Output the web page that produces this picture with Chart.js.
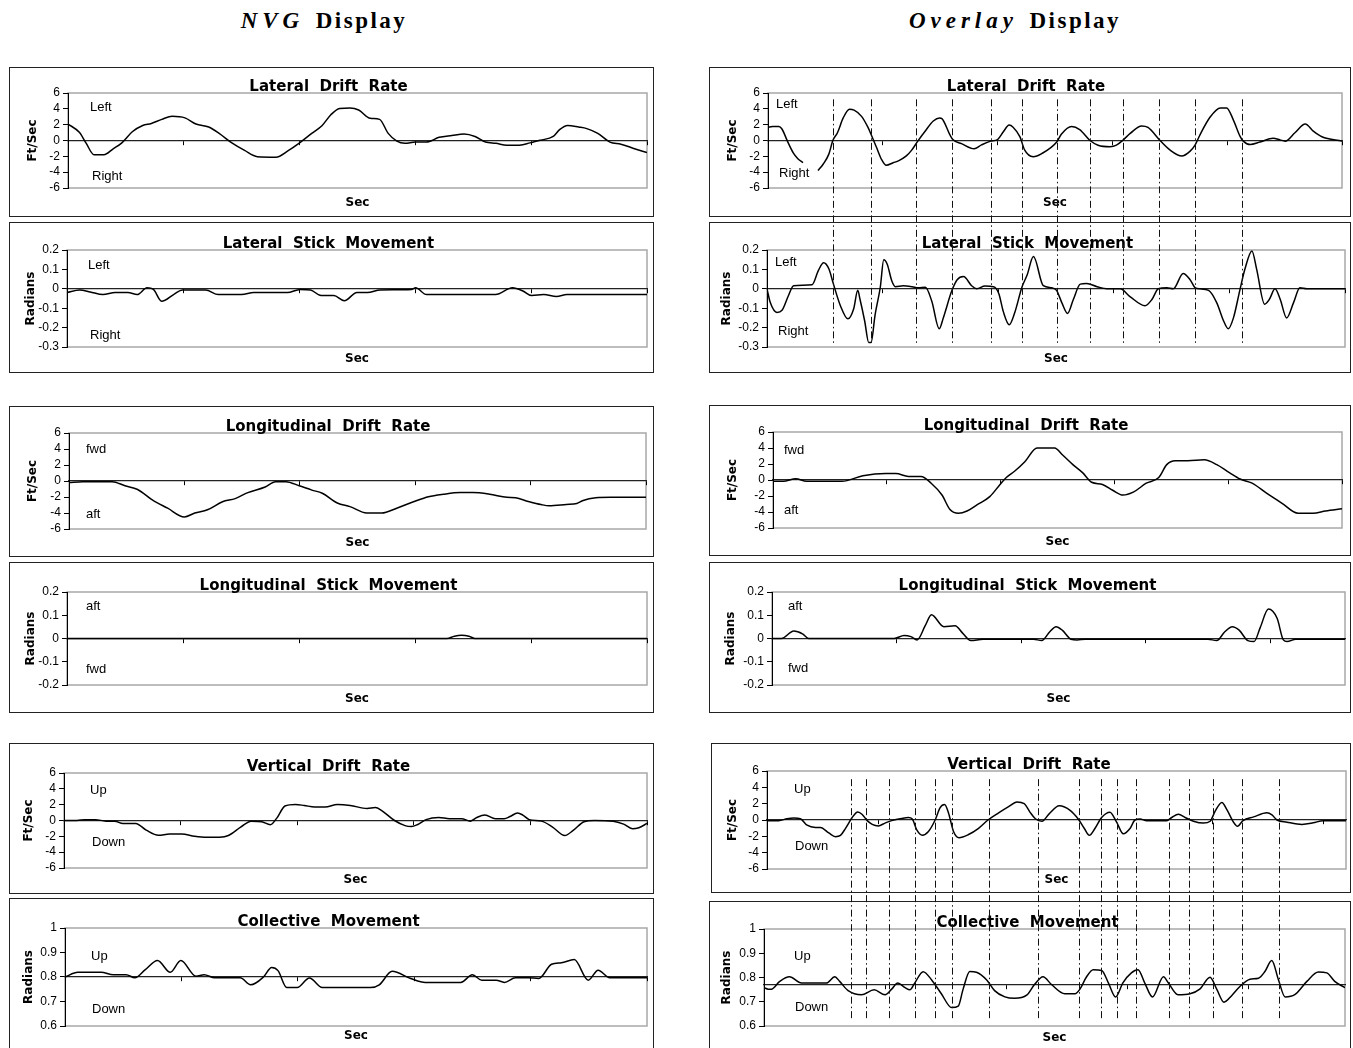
<!DOCTYPE html>
<html>
<head>
<meta charset="utf-8">
<script src="https://cdn.jsdelivr.net/npm/chart.js@4.4.0/dist/chart.umd.min.js"></script>
<style>
  html, body { margin: 0; padding: 0; background: #fff; }
  body { width: 1353px; height: 1048px; overflow: hidden; position: relative; }
  .head { position: absolute; top: 8px; width: 400px; text-align: center; white-space: nowrap;
          font: bold 23px "Liberation Serif", "Times New Roman", serif; line-height: 26px; color: #000; }
  .head i { letter-spacing: 5px; }
  .head span { letter-spacing: 2.5px; }
  .box { position: absolute; border: 1px solid #222; box-sizing: border-box; background: #fff; }
  .box canvas { position: absolute; left: 0; top: 0; }
  #events { position: absolute; left: 0; top: 0; pointer-events: none; }
</style>
</head>
<body>
<div class="head" style="left:124px"><i>NVG</i>&nbsp; <span>Display</span></div>
<div class="head" style="left:815px"><i>Overlay</i>&nbsp; <span>Display</span></div>
<canvas id="events" width="1353" height="1048"></canvas>
<script>
// ---- NVG display (left column), time in % of run ----
const nvgLatRateT = [0, 2, 3.1, 4.5, 6.2, 7.8, 9.3, 11.1, 12.9, 14.4, 16.2, 18, 20.2, 22.1, 24.3, 26.1, 28.3, 30.5, 32.7, 35.9, 38.1, 40, 42.1, 43.9, 45.4, 46.9, 48.7, 50.2, 52.2, 53.8, 55.3, 56.8, 58.2, 60, 61.9, 64.1, 66.3, 68.4, 70.3, 72.1, 73.9, 75.8, 77.6, 79.8, 81.6, 83.8, 84.9, 86.3, 88.2, 89.6, 91.5, 93.6, 95.5, 97.7, 100];
const nvgLatRateV = [2.08, 1.0, -0.3, -1.8, -1.8, -1.05, -0.3, 1.1, 1.9, 2.15, 2.67, 3.06, 2.86, 2.08, 1.7, 0.9, -0.3, -1.25, -2.04, -2.1, -1.25, -0.3, 0.9, 1.9, 3.25, 4.04, 4.1, 3.85, 2.8, 2.67, 0.9, -0.08, -0.35, -0.2, -0.2, 0.4, 0.63, 0.82, 0.51, -0.2, -0.35, -0.6, -0.6, -0.3, 0.04, 0.51, 1.37, 1.9, 1.7, 1.5, 0.9, -0.2, -0.47, -1.0, -1.53];

const nvgLatStickT = [0, 2.2, 4, 6.2, 8.3, 10.5, 12.1, 13.8, 14.9, 16.3, 18.5, 19.9, 23.9, 26.1, 30.1, 32.2, 38, 40.2, 42, 43.8, 46, 47.8, 50, 51.8, 54, 59.4, 60.1, 62, 73.9, 76.8, 78.6, 80.1, 82.2, 84.4, 86.2, 100];
const nvgLatStickV = [-0.019, -0.006, -0.016, -0.03, -0.019, -0.019, -0.03, 0.005, -0.003, -0.064, -0.027, -0.006, -0.006, -0.03, -0.03, -0.019, -0.019, -0.003, -0.006, -0.035, -0.035, -0.062, -0.019, -0.019, -0.006, -0.003, 0.005, -0.03, -0.03, 0.005, -0.011, -0.035, -0.03, -0.04, -0.03, -0.03];

const nvgLonRateT = [0, 2.4, 7.5, 9.7, 11.9, 14.5, 17.1, 20, 21.8, 24, 26.6, 28.8, 31, 34, 35.8, 37.6, 39.9, 42.1, 43.9, 46.5, 48.7, 51.6, 54.2, 56.8, 59.7, 62.3, 64.9, 67.8, 70, 72.9, 75.9, 77.4, 79.6, 81.8, 83.2, 86.2, 88, 89.1, 91.3, 93.9, 100];
const nvgLonRateV = [-0.2, -0.08, -0.08, -0.6, -1.06, -2.4, -3.4, -4.5, -4.0, -3.6, -2.6, -2.2, -1.45, -0.75, -0.08, -0.08, -0.6, -1.14, -1.53, -2.75, -3.2, -4.0, -4.0, -3.4, -2.6, -1.96, -1.65, -1.45, -1.45, -1.65, -2.04, -2.1, -2.55, -2.94, -3.1, -2.94, -2.82, -2.43, -2.1, -2.04, -2.04];

const nvgLonStickT = [0, 65.5, 66.8, 68, 69.3, 70.3, 100];
const nvgLonStickV = [0, 0, 0.01, 0.014, 0.01, 0, 0];

const nvgVertRateT = [0, 2.2, 3.6, 5.4, 7.2, 8.7, 10.1, 12.3, 14.1, 16.2, 18.1, 20.2, 22.4, 24.5, 26.7, 28.2, 30.3, 32.1, 33.9, 35.4, 36.5, 37.9, 39.7, 41.2, 43, 44.8, 46.9, 49.1, 52, 53.4, 54.5, 56.7, 58.5, 59.6, 60.6, 62.1, 64.3, 66.1, 68.2, 69.7, 70.8, 72.2, 74, 75.5, 76.5, 77.8, 78.7, 79.8, 81.9, 83.8, 85.9, 87.4, 89.2, 91, 94.2, 96, 97.5, 98.6, 100];
const nvgVertRateV = [0, 0, 0.11, 0.11, -0.08, -0.08, -0.38, -0.38, -1.22, -1.87, -1.71, -1.71, -1.98, -2.1, -2.1, -1.9, -0.84, -0.08, -0.15, -0.53, 0.3, 1.83, 2.02, 1.9, 1.71, 1.71, 2.02, 1.9, 1.52, 1.64, 1.26, 0, -0.65, -0.76, -0.53, 0.11, 0.38, 0.23, 0.23, -0.08, 0.38, 0.69, 0.23, 0.23, 0.5, 0.95, 0.69, 0.11, -0.08, -0.84, -1.9, -1.22, -0.15, 0, -0.08, -0.46, -1.03, -0.91, -0.38];

const nvgCollT = [0, 2.2, 6.2, 8.3, 10.5, 12, 13.8, 15.9, 18.1, 19.9, 22.5, 23.9, 25.7, 30.1, 31.9, 34.1, 35.5, 36.6, 38.1, 39.9, 42, 44.2, 52.5, 54, 56.2, 59.4, 61.9, 68, 70, 71.6, 74.1, 75.5, 77.4, 79.6, 81.4, 83.6, 85.3, 87.5, 89.9, 91.6, 93.6, 100];
const nvgCollV = [0.8, 0.819, 0.819, 0.809, 0.809, 0.797, 0.83, 0.867, 0.819, 0.867, 0.803, 0.809, 0.797, 0.797, 0.768, 0.8, 0.839, 0.826, 0.757, 0.757, 0.796, 0.757, 0.757, 0.768, 0.823, 0.794, 0.778, 0.778, 0.809, 0.787, 0.787, 0.778, 0.797, 0.797, 0.794, 0.852, 0.858, 0.871, 0.787, 0.828, 0.797, 0.797];

// ---- Overlay display (right column) ----
const ovlLatRateT = [0, 0.8, 1.9, 2.4, 3.5, 4.4, 5.2, 6.1, 7.4, 8.7, 9.6, 10.6, 11.3, 12.1, 13.1, 14.2, 15, 16.3, 17.4, 18, 18.9, 19.8, 20.6, 21.8, 22.8, 24.1, 25, 26.1, 27.3, 28.8, 29.9, 30.3, 31.7, 32.2, 33.7, 35.9, 37.2, 38.8, 40, 41, 42, 42.7, 43.9, 44.7, 46.2, 47.7, 50.3, 51.1, 52.9, 54.3, 56.1, 57.5, 59.6, 60.7, 61.9, 63.1, 65.1, 66.2, 68.3, 70, 72.1, 73.5, 74.4, 75.3, 77, 78.8, 79.9, 81.1, 82.2, 82.8, 84, 85.7, 88, 89.2, 90.1, 91.8, 93.6, 95, 96.5, 100];
const ovlLatRateV = [1.68, 1.76, 1.76, 1.48, -0.27, -1.56, -2.3, -2.8, null, -3.8, -3.0, -1.72, 0, 0.98, 2.85, 3.95, 3.83, 3.05, 1.68, 0.7, -0.86, -2.42, -3.13, -2.81, -2.54, -1.95, -1.25, -0.08, 1.1, 2.46, 2.85, 2.77, 0.7, 0.12, -0.39, -1.05, -0.55, -0.08, 0.12, 1.1, 1.95, 1.68, 0.45, -1.18, -2.04, -1.65, -0.2, 0.78, 1.76, 1.37, 0, -0.59, -0.78, -0.59, 0.08, 0.9, 1.84, 1.65, 0, -1.18, -1.96, -1.37, -0.59, 0.78, 2.94, 4.12, 4.12, 2.55, 0.59, -0.08, -0.51, -0.2, 0.27, 0.08, -0.08, 0.98, 2.08, 1.18, 0.47, -0.08];

const ovlLatStickT = [0, 0.57, 1.73, 2.6, 3.7, 4.6, 7.8, 8.9, 9.8, 10.7, 11.5, 12.7, 14, 15, 15.7, 16.1, 16.9, 17.6, 18, 18.7, 19.6, 20.2, 20.8, 21.6, 22.2, 23.6, 25.1, 26.2, 27.4, 28.5, 29.8, 30.5, 32, 32.9, 34, 35.4, 36.3, 37.7, 39.2, 40.1, 40.9, 41.9, 42.9, 44.1, 45, 46.1, 47.8, 49.3, 50.1, 51, 52, 53, 54.2, 55.3, 57.1, 58.8, 61.1, 62.8, 65.4, 66.6, 67.7, 69.2, 70.3, 72, 73.2, 74.1, 74.9, 76.4, 77.8, 79, 79.8, 80.7, 81.8, 82.7, 83.9, 84.7, 86.1, 86.9, 87.9, 88.8, 89.9, 91.1, 92.2, 93.4, 100];
const ovlLatStickV = [0, -0.071, -0.122, -0.111, -0.036, 0.016, 0.021, 0.095, 0.134, 0.103, 0.024, -0.087, -0.155, -0.103, -0.008, -0.055, -0.166, -0.277, -0.277, -0.134, 0.008, 0.15, 0.127, 0.04, 0.011, 0.016, 0.011, 0.005, 0.008, -0.063, -0.206, -0.15, -0.008, 0.047, 0.063, 0.016, 0, 0.014, 0.011, -0.024, -0.119, -0.185, -0.119, 0.008, 0.071, 0.166, 0.016, 0.005, -0.008, -0.071, -0.127, -0.055, 0.024, 0.027, 0.011, 0, 0, -0.04, -0.087, -0.055, 0, 0.005, 0, 0.079, 0.047, 0.005, 0, -0.008, -0.071, -0.166, -0.206, -0.15, -0.008, 0.103, 0.195, 0.103, -0.079, -0.055, 0, -0.055, -0.15, -0.071, 0.005, 0, 0];

const ovlLonRateT = [0, 1.8, 4, 5.9, 12.1, 15.8, 19.8, 21.6, 23.8, 26, 27.8, 29.7, 31.1, 32.6, 34.1, 35.9, 38.1, 39.9, 41, 42.5, 44.3, 46.4, 49.5, 50.9, 52.7, 54.4, 56, 57.9, 59.7, 61.5, 63.4, 65.6, 67.8, 69.2, 70.7, 72.9, 75.8, 78, 80.2, 82.1, 84.2, 86.8, 89.4, 92.3, 94.9, 97.1, 100];
const ovlLonRateV = [-0.16, -0.16, 0.16, -0.16, -0.16, 0.52, 0.8, 0.8, 0.44, 0.44, -0.4, -1.88, -3.68, -4.16, -3.88, -3.08, -2.08, -0.56, 0.32, 1.12, 2.32, 4.0, 4.0, 3.12, 1.92, 0.92, -0.28, -0.56, -1.28, -1.88, -1.48, -0.4, 0.32, 1.92, 2.4, 2.4, 2.52, 1.92, 0.92, 0.12, -0.4, -1.68, -2.88, -4.16, -4.16, -3.88, -3.6];

const ovlLonStickT = [0, 1.5, 3.5, 4.9, 5.9, 19.6, 21.2, 22.3, 23.3, 24.6, 25.6, 27.6, 29.4, 30.6, 31.9, 33.9, 42, 43.3, 44.6, 45.6, 46.6, 48, 49, 50.3, 70, 71.4, 72.7, 73.9, 75, 76.4, 77.4, 78.4, 79.7, 81.1, 82.1, 82.7, 84.1, 92];
const ovlLonStickV = [0, 0, 0.032, 0.02, 0, 0, 0.013, 0.008, -0.006, 0.055, 0.102, 0.051, 0.055, 0.023, -0.009, -0.003, -0.003, -0.009, 0.029, 0.051, 0.036, -0.003, -0.006, -0.003, -0.003, -0.009, 0.029, 0.051, 0.036, -0.009, -0.013, 0.048, 0.127, 0.087, -0.006, -0.013, -0.003, -0.003];

const ovlVertRateT = [0, 2.1, 3.6, 4.8, 6, 7.2, 8.7, 9.6, 11.1, 12.3, 13.2, 14.1, 15.3, 16.3, 17.1, 18, 18.9, 20, 21.2, 22.4, 24.2, 25.4, 26.1, 26.9, 27.9, 29, 30.2, 31.1, 31.9, 32.6, 33.5, 34.5, 36.2, 38, 39.7, 41.6, 43.4, 44.9, 46.2, 47.2, 48.2, 49.4, 50.6, 52.5, 54.5, 55.9, 57, 57.9, 58.9, 60.1, 61.6, 62.8, 64, 65.2, 66.1, 67, 68.2, 71.8, 72.7, 73.9, 75.1, 76.6, 78.4, 79.6, 80.5, 81.7, 82.6, 83.8, 84.5, 85.5, 87.4, 89.8, 90.7, 91.6, 93.4, 96.1, 98.1, 99.9, 104];
const ovlVertRateV = [-0.08, -0.08, 0.15, 0.23, 0.15, -0.64, -0.91, -0.91, -1.59, -2.05, -1.89, -1.02, 0.3, 0.98, 0.68, -0.08, -0.53, -0.72, -0.38, -0.08, 0.19, 0.3, 0.11, -1.21, -1.86, -1.4, 0, 1.52, 1.89, 0.87, -1.4, -2.16, -1.78, -1.02, 0, 0.87, 1.63, 2.2, 2.0, 1.0, 0.15, -0.15, 0.69, 1.73, 1.15, 0.12, -1.04, -1.88, -1.04, 0.31, 0.96, -0.27, -1.69, -1.04, 0, 0.12, -0.08, -0.08, 0.31, 0.69, 0.31, -0.15, -0.38, -0.15, 1.08, 2.15, 1.27, -0.27, -0.77, -0.08, 0.38, 0.88, 0.62, 0, -0.27, -0.54, -0.35, -0.08, -0.08];

const ovlCollT = [0, 0.7, 1.2, 2.6, 4.2, 6.2, 10.3, 11.7, 12.5, 13.9, 16.1, 18.2, 20, 21.1, 22.1, 23.3, 24.1, 24.9, 26.3, 27.7, 29.3, 31, 32.1, 32.9, 34, 35.1, 36.8, 38.1, 39.8, 41.4, 43.4, 44.7, 46.1, 47.5, 49.7, 51.4, 52.2, 53.3, 54.4, 55.8, 56.9, 58.1, 59.3, 60.7, 61.8, 62.9, 64.2, 66, 66.8, 68.4, 70.4, 72, 73.7, 74.8, 76, 77.3, 78.6, 80.3, 81.7, 82.8, 83.9, 85, 86.1, 87.7, 89.7, 91.6, 93, 94.3, 96];
const ovlCollV = [0.758, 0.752, 0.752, 0.784, 0.803, 0.777, 0.777, 0.803, 0.784, 0.746, 0.729, 0.749, 0.729, 0.752, 0.777, 0.758, 0.749, 0.777, 0.824, 0.79, 0.733, 0.676, 0.682, 0.752, 0.825, 0.822, 0.79, 0.746, 0.72, 0.714, 0.727, 0.771, 0.803, 0.771, 0.733, 0.733, 0.752, 0.803, 0.832, 0.829, 0.778, 0.72, 0.778, 0.819, 0.832, 0.778, 0.72, 0.803, 0.778, 0.729, 0.733, 0.752, 0.801, 0.752, 0.698, 0.726, 0.762, 0.793, 0.797, 0.826, 0.87, 0.791, 0.72, 0.729, 0.784, 0.823, 0.819, 0.784, 0.758];

// event markers (dash-dot verticals) on the overlay side
const lateralEvents = [11.3, 17.9, 25.7, 32.0, 38.8, 44.3, 50.3, 56.1, 61.8, 68.1, 74.4, 82.5];
const verticalEvents = [15.0, 17.8, 22.0, 26.5, 30.2, 33.2, 39.8, 48.6, 56.1, 60.0, 62.9, 66.2, 72.2, 75.8, 80.2, 85.3, 91.9];

// y scales
const rateTicks = { min: -6, max: 6, step: 2 };
const latStickTicks = { min: -0.3, max: 0.2, step: 0.1 };
const lonStickTicks = { min: -0.2, max: 0.2, step: 0.1 };
const collTicks = { min: 0.6, max: 1, step: 0.1 };

const FONT = '"Liberation Sans", Arial, sans-serif';
const BOLD = '"DejaVu Sans", Verdana, sans-serif';

// box = [left, top, width, height]; plot = [left, right, top, bottom] (page pixels)
const panels = [
  { id: 'L1', box: [9, 67, 645, 150], plot: [68, 647, 93, 196], secY: 203, yTitleX: 33,
    title: 'Lateral  Drift  Rate', yTitle: 'Ft/Sec', t: nvgLatRateT, v: nvgLatRateV, y: rateTicks, xMax: 100, base: 0,
    notes: [['Left', 22, 4.2], ['Right', 24, -4.6]] },
  { id: 'L2', box: [9, 222, 645, 151], plot: [67, 647, 250, 355], secY: 359, yTitleX: 31,
    title: 'Lateral  Stick  Movement', yTitle: 'Radians', t: nvgLatStickT, v: nvgLatStickV, y: latStickTicks, xMax: 100, base: 0,
    notes: [['Left', 21, 0.119], ['Right', 23, -0.238]] },
  { id: 'L3', box: [9, 406, 645, 151], plot: [69, 646, 433, 537], secY: 543, yTitleX: 33,
    title: 'Longitudinal  Drift  Rate', yTitle: 'Ft/Sec', t: nvgLonRateT, v: nvgLonRateV, y: rateTicks, xMax: 100, base: 0,
    notes: [['fwd', 17, 4.0], ['aft', 17, -4.15]] },
  { id: 'L4', box: [9, 562, 645, 151], plot: [67, 647, 592, 693], secY: 699, yTitleX: 31,
    title: 'Longitudinal  Stick  Movement', yTitle: 'Radians', t: nvgLonStickT, v: nvgLonStickV, y: lonStickTicks, xMax: 100, base: 0,
    notes: [['aft', 19, 0.139], ['fwd', 19, -0.131]] },
  { id: 'L5', box: [9, 743, 645, 151], plot: [64, 647, 773, 876], secY: 880, yTitleX: 29,
    title: 'Vertical  Drift  Rate', yTitle: 'Ft/Sec', t: nvgVertRateT, v: nvgVertRateV, y: rateTicks, xMax: 100, base: 0,
    notes: [['Up', 26, 3.8], ['Down', 28, -2.8]] },
  { id: 'L6', box: [9, 898, 645, 153], plot: [65, 647, 928, 1034], secY: 1036, yTitleX: 29,
    title: 'Collective  Movement', yTitle: 'Radians', t: nvgCollT, v: nvgCollV, y: collTicks, xMax: 100, base: 0.8,
    notes: [['Up', 26, 0.883], ['Down', 27, 0.668]] },

  { id: 'R1', box: [709, 67, 642, 150], plot: [768, 1342, 93, 196], secY: 203, yTitleX: 733,
    title: 'Lateral  Drift  Rate', yTitle: 'Ft/Sec', t: ovlLatRateT, v: ovlLatRateV, y: rateTicks, xMax: 100, base: 0,
    notes: [['Left', 8, 4.6], ['Right', 11, -4.1]] },
  { id: 'R2', box: [709, 222, 642, 151], plot: [767, 1345, 250, 355], secY: 359, yTitleX: 727,
    title: 'Lateral  Stick  Movement', yTitle: 'Radians', t: ovlLatStickT, v: ovlLatStickV, y: latStickTicks, xMax: 100, base: 0,
    notes: [['Left', 8, 0.134], ['Right', 11, -0.22]] },
  { id: 'R3', box: [709, 405, 642, 151], plot: [773, 1342, 432, 536], secY: 542, yTitleX: 733,
    title: 'Longitudinal  Drift  Rate', yTitle: 'Ft/Sec', t: ovlLonRateT, v: ovlLonRateV, y: rateTicks, xMax: 100, base: 0,
    notes: [['fwd', 11, 3.7], ['aft', 11, -3.8]] },
  { id: 'R4', box: [709, 562, 642, 151], plot: [772, 1345, 592, 693], secY: 699, yTitleX: 731,
    title: 'Longitudinal  Stick  Movement', yTitle: 'Radians', t: ovlLonStickT, v: ovlLonStickV, y: lonStickTicks, xMax: 92, base: 0,
    notes: [['aft', 16, 0.139], ['fwd', 16, -0.13]] },
  { id: 'R5', box: [711, 743, 640, 150], plot: [767, 1346, 771, 877], secY: 880, yTitleX: 733,
    title: 'Vertical  Drift  Rate', yTitle: 'Ft/Sec', t: ovlVertRateT, v: ovlVertRateV, y: rateTicks, xMax: 104, base: 0,
    notes: [['Up', 27, 3.7], ['Down', 28, -3.2]] },
  { id: 'R6', box: [709, 901, 642, 153], plot: [764, 1345, 929, 1034], secY: 1038, yTitleX: 727,
    title: 'Collective  Movement', yTitle: 'Radians', t: ovlCollT, v: ovlCollV, y: collTicks, xMax: 96, base: 0.77,
    notes: [['Up', 30, 0.885], ['Down', 31, 0.676]] }
];

function framePlugin(notes) {
  return {
    id: 'frame',
    beforeDraw(chart) {
      const { ctx, chartArea: a } = chart;
      ctx.save();
      ctx.strokeStyle = '#a8a8a8';
      ctx.lineWidth = 1.5;
      ctx.strokeRect(a.left, a.top, a.right - a.left, a.bottom - a.top);
      ctx.restore();
    },
    afterDatasetsDraw(chart) {
      const { ctx, chartArea: a, scales } = chart;
      ctx.save();
      ctx.font = '13px ' + FONT;
      ctx.fillStyle = '#000';
      ctx.textBaseline = 'middle';
      notes.forEach(([text, dx, val]) => {
        ctx.fillText(text, a.left + dx, scales.y.getPixelForValue(val));
      });
      ctx.restore();
    }
  };
}

const charts = {};

panels.forEach(p => {
  const [bx, by, bw, bh] = p.box;
  const div = document.createElement('div');
  div.className = 'box';
  div.style.left = bx + 'px';
  div.style.top = by + 'px';
  div.style.width = bw + 'px';
  div.style.height = bh + 'px';
  const cw = bw - 2, ch = bh - 2;
  const canvas = document.createElement('canvas');
  canvas.width = cw;
  canvas.height = ch;
  div.appendChild(canvas);
  document.body.insertBefore(div, document.getElementById('events'));

  const ox = bx + 1, oy = by + 1;
  const plotL = p.plot[0] - ox, plotR = p.plot[1] - ox;
  const plotT = p.plot[2] - oy, plotB = p.plot[3] - oy;
  const titleY = plotT - 6;
  const secPad = (p.secY - oy) - plotB - 6;
  const secH = 12 + secPad;

  charts[p.id] = new Chart(canvas, {
    type: 'line',
    data: {
      datasets: [{
        data: p.t.map((t, i) => ({ x: t, y: p.v[i] })),
        xAxisID: 'x',
        yAxisID: 'y',
        borderColor: '#000',
        borderWidth: 1.5,
        pointRadius: 0,
        fill: false,
        cubicInterpolationMode: 'monotone',
        spanGaps: false
      }]
    },
    options: {
      responsive: false,
      animation: false,
      events: [],
      layout: { padding: { left: 0, top: 0, right: cw - plotR, bottom: ch - plotB - secH } },
      plugins: {
        legend: { display: false },
        tooltip: { enabled: false },
        title: {
          display: true,
          text: p.title,
          color: '#000',
          font: { family: BOLD, weight: 'bold', size: 15, lineHeight: 1 },
          padding: { top: titleY - 7.5, bottom: plotT - titleY - 7.5 }
        }
      },
      scales: {
        x: {
          type: 'linear', min: 0, max: p.xMax, position: { y: p.base },
          ticks: { display: false, stepSize: 20, includeBounds: false },
          grid: { display: true, drawOnChartArea: false, drawTicks: true, tickLength: 4, color: '#000', lineWidth: 1 },
          border: { display: true, color: '#222', width: 1.2 }
        },
        x2: {
          type: 'linear', position: 'bottom', min: 0, max: p.xMax, display: true,
          ticks: { display: false },
          grid: { display: false },
          border: { display: false },
          title: {
            display: true, text: 'Sec', color: '#000',
            font: { family: BOLD, weight: 'bold', size: 12, lineHeight: 1 },
            padding: { top: secPad, bottom: 0 }
          }
        },
        y: {
          type: 'linear', position: 'left', min: p.y.min, max: p.y.max,
          ticks: {
            stepSize: p.y.step, autoSkip: false, color: '#000', padding: 3,
            font: { family: FONT, size: 12 },
            callback: v => String(Number(v.toFixed(2)))
          },
          grid: { drawOnChartArea: false, drawTicks: true, tickLength: 5, color: '#000' },
          border: { display: true, color: '#000', width: 1 },
          title: {
            display: true, text: p.yTitle, color: '#000',
            font: { family: BOLD, weight: 'bold', size: 12, lineHeight: 1 },
            padding: { top: (p.yTitleX - ox) - 6, bottom: 0 }
          },
          afterFit: s => { s.width = plotL; }
        }
      }
    },
    plugins: [framePlugin(p.notes)]
  });
});

// dash-dot event lines that run through two stacked overlay panels
function drawEvents(upper, lower, xs, topVal, bottomVal) {
  const ctx = document.getElementById('events').getContext('2d');
  const ru = upper.canvas.getBoundingClientRect();
  const rl = lower.canvas.getBoundingClientRect();
  const y1 = ru.top + upper.scales.y.getPixelForValue(topVal);
  const y2 = rl.top + lower.scales.y.getPixelForValue(bottomVal);
  ctx.save();
  ctx.strokeStyle = '#111';
  ctx.lineWidth = 1;
  ctx.setLineDash([7, 3, 1.5, 3]);
  xs.forEach(v => {
    const x = Math.round(ru.left + upper.scales.x.getPixelForValue(v)) + 0.5;
    ctx.beginPath();
    ctx.moveTo(x, y1);
    ctx.lineTo(x, y2);
    ctx.stroke();
  });
  ctx.restore();
}

drawEvents(charts.R1, charts.R2, lateralEvents, 5.2, -0.28);
drawEvents(charts.R5, charts.R6, verticalEvents, 5.0, 0.625);
</script>
</body>
</html>
